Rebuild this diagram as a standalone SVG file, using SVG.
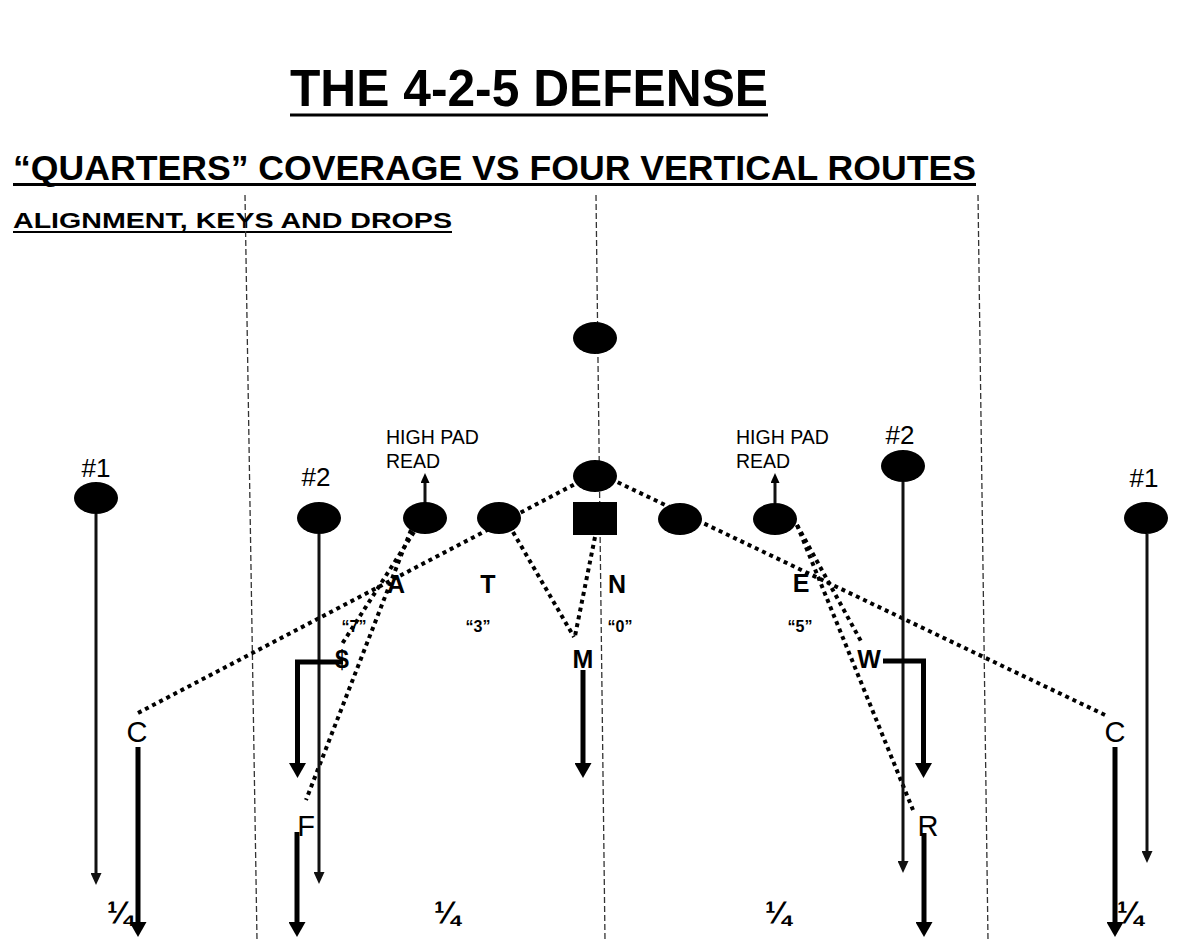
<svg xmlns="http://www.w3.org/2000/svg" width="1200" height="942" viewBox="0 0 1200 942">
<style>
.t{font-family:"Liberation Sans",Arial,sans-serif;fill:#000}
.b{font-weight:bold}
.field{stroke:#333;stroke-width:1.3;stroke-dasharray:6 3;fill:none}
.dot{stroke:#000;stroke-width:4;stroke-dasharray:4 4;fill:none}
.thin{stroke:#111;stroke-width:3;fill:none}
.thick{stroke:#000;stroke-width:5;fill:none}
.pl{fill:#000}
</style>
<defs>
<marker id="ahThin" markerUnits="userSpaceOnUse" markerWidth="12" markerHeight="11" refX="0" refY="5.5" orient="auto" viewBox="0 0 12 11"><path d="M0,0 L12,5.5 L0,11 z" fill="#111"/></marker>
<marker id="ahThick" markerUnits="userSpaceOnUse" markerWidth="15" markerHeight="17" refX="0" refY="8.5" orient="auto" viewBox="0 0 15 17"><path d="M0,0 L15,8.5 L0,17 z" fill="#000"/></marker>
<marker id="ahUp" markerUnits="userSpaceOnUse" markerWidth="10" markerHeight="9" refX="0" refY="4.5" orient="auto" viewBox="0 0 10 9"><path d="M0,0 L10,4.5 L0,9 z" fill="#000"/></marker>
</defs>
<rect width="1200" height="942" fill="#fff"/>

<g id="titles">
<text class="t b" x="290" y="106" font-size="51" textLength="478" lengthAdjust="spacingAndGlyphs">THE 4-2-5 DEFENSE</text>
<rect x="290" y="113.5" width="478" height="3"/>
<text class="t b" x="13" y="180" font-size="35" textLength="963" lengthAdjust="spacingAndGlyphs">“QUARTERS” COVERAGE VS FOUR VERTICAL ROUTES</text>
<rect x="13" y="183" width="963" height="3"/>
<text class="t b" x="13" y="228" font-size="22" textLength="439" lengthAdjust="spacingAndGlyphs">ALIGNMENT, KEYS AND DROPS</text>
<rect x="13" y="231" width="439" height="2"/>
</g>

<g id="field-lines">
<line class="field" x1="245" y1="195" x2="257" y2="940"/>
<line class="field" x1="596" y1="195" x2="605" y2="940"/>
<line class="field" x1="978" y1="195" x2="988" y2="940"/>
</g>

<g id="connectors">
<line class="dot" x1="138" y1="713" x2="577" y2="483"/>
<line class="dot" x1="1105" y1="715" x2="615" y2="481"/>
<line class="dot" x1="414" y1="532" x2="342" y2="644"/>
<line class="dot" x1="411" y1="530" x2="306" y2="800"/>
<line class="dot" x1="513" y1="532" x2="574" y2="637"/>
<line class="dot" x1="595" y1="537" x2="575" y2="636"/>
<line class="dot" x1="797" y1="525" x2="862" y2="643"/>
<line class="dot" x1="797" y1="525" x2="913" y2="810"/>

<line class="thin" x1="96" y1="514" x2="96" y2="873" marker-end="url(#ahThin)"/>
<line class="thin" x1="319" y1="534" x2="319" y2="872" marker-end="url(#ahThin)"/>
<line class="thin" x1="903" y1="482" x2="903" y2="861" marker-end="url(#ahThin)"/>
<line class="thin" x1="1147" y1="534" x2="1147" y2="851" marker-end="url(#ahThin)"/>

<line class="thin" x1="425" y1="503" x2="425" y2="483" marker-end="url(#ahUp)"/>
<line class="thin" x1="775" y1="503" x2="775" y2="483" marker-end="url(#ahUp)"/>

<line class="thick" x1="138" y1="747" x2="138" y2="922" marker-end="url(#ahThick)"/>
<line class="thick" x1="297" y1="832" x2="297" y2="922" marker-end="url(#ahThick)"/>
<path class="thick" d="M343,662 H297.5 V763" marker-end="url(#ahThick)"/>
<line class="thick" x1="583" y1="670" x2="583" y2="763" marker-end="url(#ahThick)"/>
<path class="thick" d="M883,661 H923.5 V763" marker-end="url(#ahThick)"/>
<line class="thick" x1="924" y1="833" x2="924" y2="922" marker-end="url(#ahThick)"/>
<line class="thick" x1="1115" y1="747" x2="1115" y2="922" marker-end="url(#ahThick)"/>
</g>

<g id="offense">
<g id="wr1-left"><ellipse class="pl" cx="96" cy="498" rx="22" ry="16"/><text class="t" x="96" y="477" font-size="26" text-anchor="middle">#1</text></g>
<g id="wr2-left"><ellipse class="pl" cx="319" cy="518" rx="22" ry="16"/><text class="t" x="316" y="486" font-size="26" text-anchor="middle">#2</text></g>
<g id="te-left"><ellipse class="pl" cx="425" cy="518" rx="22" ry="16"/><text class="t" x="386" y="444" font-size="19.5">HIGH PAD</text><text class="t" x="386" y="468" font-size="19.5">READ</text></g>
<g id="ol-lt"><ellipse class="pl" cx="499" cy="518" rx="22" ry="16"/></g>
<g id="qb"><ellipse class="pl" cx="595" cy="338" rx="22" ry="16"/></g>
<g id="rb"><ellipse class="pl" cx="595" cy="476" rx="22" ry="16"/></g>
<g id="center"><rect class="pl" x="573" y="502" width="44" height="33"/></g>
<g id="ol-rt"><ellipse class="pl" cx="680" cy="519" rx="22" ry="16"/></g>
<g id="te-right"><ellipse class="pl" cx="775" cy="519" rx="22" ry="16"/><text class="t" x="736" y="444" font-size="19.5">HIGH PAD</text><text class="t" x="736" y="468" font-size="19.5">READ</text></g>
<g id="wr2-right"><ellipse class="pl" cx="903" cy="466" rx="22" ry="16"/><text class="t" x="900" y="444" font-size="26" text-anchor="middle">#2</text></g>
<g id="wr1-right"><ellipse class="pl" cx="1146" cy="518" rx="22" ry="16"/><text class="t" x="1144" y="487" font-size="26" text-anchor="middle">#1</text></g>
</g>

<g id="defense">
<g id="def-A"><text class="t b" x="396" y="593" font-size="25" text-anchor="middle">A</text><text class="t b" x="354" y="632" font-size="16" text-anchor="middle">“7”</text></g>
<g id="def-T"><text class="t b" x="488" y="593" font-size="25" text-anchor="middle">T</text><text class="t b" x="478" y="632" font-size="16" text-anchor="middle">“3”</text></g>
<g id="def-N"><text class="t b" x="617" y="593" font-size="25" text-anchor="middle">N</text><text class="t b" x="620" y="632" font-size="16" text-anchor="middle">“0”</text></g>
<g id="def-E"><text class="t b" x="801" y="592" font-size="25" text-anchor="middle">E</text><text class="t b" x="800" y="632" font-size="16" text-anchor="middle">“5”</text></g>
<g id="def-S"><text class="t b" x="342" y="668" font-size="25" text-anchor="middle">$</text></g>
<g id="def-M"><text class="t b" x="583" y="668" font-size="25" text-anchor="middle">M</text></g>
<g id="def-W"><text class="t b" x="869" y="668" font-size="25" text-anchor="middle">W</text></g>
<g id="def-C-left"><text class="t" x="137" y="742" font-size="29" text-anchor="middle">C</text></g>
<g id="def-F"><text class="t" x="306" y="836" font-size="29" text-anchor="middle">F</text></g>
<g id="def-R"><text class="t" x="928" y="836" font-size="29" text-anchor="middle">R</text></g>
<g id="def-C-right"><text class="t" x="1115" y="742" font-size="29" text-anchor="middle">C</text></g>
</g>

<g id="zones">
<text class="t b" x="120" y="923" font-size="31" text-anchor="middle">¼</text>
<text class="t b" x="447" y="923" font-size="31" text-anchor="middle">¼</text>
<text class="t b" x="778" y="923" font-size="31" text-anchor="middle">¼</text>
<text class="t b" x="1130" y="923" font-size="31" text-anchor="middle">¼</text>
</g>
</svg>
